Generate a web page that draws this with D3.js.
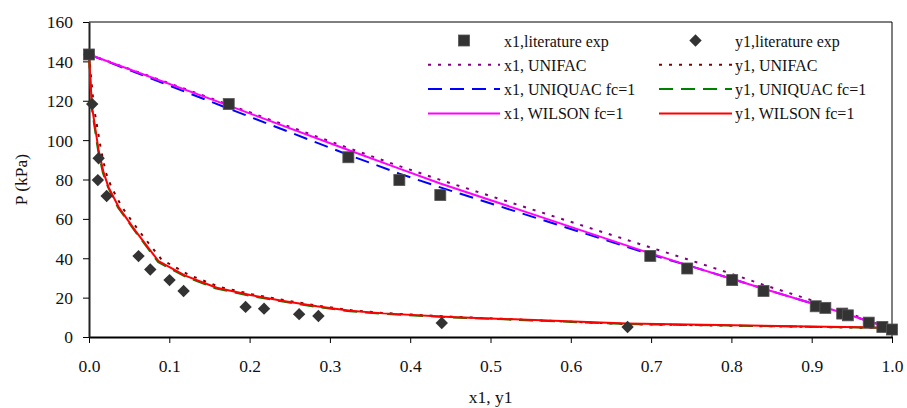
<!DOCTYPE html>
<html>
<head>
<meta charset="utf-8">
<script src="https://cdn.jsdelivr.net/npm/d3@7"></script>
<style>
  html, body { margin: 0; padding: 0; background: #fff; }
  svg { display: block; }
  svg text { font-family: "Liberation Serif", "Times New Roman", serif !important; fill: #111; }
</style>
</head>
<body>
<svg id="chart" width="907" height="408"></svg>
<script>
// Experimental liquid-phase (x1) points: composition and pressure (kPa)
const x1Exp = [0, 0.174, 0.323, 0.3865, 0.4375, 0.699, 0.745, 0.801, 0.840, 0.905, 0.917, 0.938, 0.945, 0.971, 0.988, 1.0];
const x1ExpP = [143.5, 118.3, 91.3, 79.7, 72.1, 41.2, 34.8, 28.9, 23.4, 15.6, 14.8, 11.9, 11.0, 7.3, 5.1, 3.8];

// Experimental vapour-phase (y1) points
const y1Exp = [0, 0.004, 0.012, 0.011, 0.022, 0.0617, 0.0763, 0.1003, 0.1178, 0.195, 0.218, 0.2617, 0.2857, 0.4393, 0.6707];
const y1ExpP = [143.5, 118.3, 90.8, 79.7, 71.6, 41.1, 34.3, 28.9, 23.4, 15.3, 14.4, 11.6, 10.7, 7.1, 5.1];

// Bubble-point curves (x1) from the three models
const x1Model = [0, 0.174, 0.323, 0.3865, 0.4375, 0.699, 0.745, 0.801, 0.840, 0.905, 0.917, 0.938, 0.945, 0.971, 0.988, 1.0];
const x1Unifac = [143.5, 118.0, 96.0, 86.8, 79.8, 45.5, 39.5, 32.0, 26.5, 18.0, 16.3, 13.3, 12.2, 8.4, 5.7, 3.8];
const x1Uniquac = [143.5, 116.0, 92.5, 83.0, 76.0, 42.0, 36.5, 29.5, 24.5, 16.5, 15.0, 12.3, 11.4, 8.0, 5.5, 3.8];
const x1Wilson = [143.5, 117.5, 95.0, 85.5, 78.0, 42.5, 36.5, 29.5, 24.5, 16.5, 15.0, 12.3, 11.4, 8.0, 5.5, 3.8];

// Dew-point curves (y1) from the three models
const dewP = [143.5, 117, 95, 83.5, 76, 66, 54, 38.5, 31.2, 25, 21.3, 18.3, 15.6, 13.3, 12, 10.2, 6.8, 4.8, 3.8];
const y1Unifac = [0, 0.006, 0.015, 0.021, 0.028, 0.041, 0.062, 0.090, 0.123, 0.162, 0.203, 0.245, 0.287, 0.328, 0.370, 0.452, 0.672, 0.982, 1.0];
const y1Uniquac = [0, 0.0032, 0.0112, 0.0172, 0.0238, 0.0358, 0.0568, 0.0862, 0.1195, 0.1585, 0.1995, 0.2415, 0.2835, 0.3245, 0.3665, 0.4490, 0.6690, 0.9790, 1.0];
const y1Wilson = [0, 0.0037, 0.0119, 0.0182, 0.0244, 0.0369, 0.0576, 0.0866, 0.1198, 0.1590, 0.2007, 0.2422, 0.2837, 0.3252, 0.3666, 0.4496, 0.6700, 0.9800, 1.0];
const y1UnifacP = [143.5, 117, 95, 83.5, 76, 66, 54, 39.5, 31.8, 25.5, 21.7, 18.6, 15.8, 13.5, 12.1, 10.3, 6.5, 4.6, 3.8];
const y1UniquacP = [143.5, 117, 95, 83.5, 76, 66, 54, 38, 30.8, 24.6, 21.0, 18.0, 15.3, 13.1, 11.8, 10.0, 6.6, 4.7, 3.8];

const xTicks = [0, 0.1, 0.2, 0.3, 0.4, 0.5, 0.6, 0.7, 0.8, 0.9, 1.0];
const yTicks = [0, 20, 40, 60, 80, 100, 120, 140, 160];

const legendNames = [
  "x1,literature exp", "y1,literature exp",
  "x1, UNIFAC", "y1, UNIFAC",
  "x1, UNIQUAC fc=1", "y1, UNIQUAC fc=1",
  "x1, WILSON fc=1", "y1, WILSON fc=1"
];

const svg = d3.select("#chart");
const plotL = 89, plotR = 892, plotT = 22, plotB = 337;

const x = d3.scaleLinear().domain([0, 1]).range([plotL, plotR]);
const y = d3.scaleLinear().domain([0, 160]).range([plotB, plotT]);

// plot frame: thin top and right edges
svg.append("line").attr("x1", plotL).attr("x2", plotR).attr("y1", plotT).attr("y2", plotT)
  .attr("stroke", "#000").attr("stroke-width", 1);
svg.append("line").attr("x1", plotR).attr("x2", plotR).attr("y1", plotT).attr("y2", plotB)
  .attr("stroke", "#000").attr("stroke-width", 1);

// axes
const xAxis = svg.append("g").attr("transform", `translate(0,${plotB})`)
  .call(d3.axisBottom(x).tickValues(xTicks).tickFormat(d3.format(".1f")).tickSize(6).tickSizeOuter(0));
xAxis.select(".domain").attr("stroke", "#000").attr("stroke-width", 2);
xAxis.selectAll(".tick line").attr("stroke", "#000");
xAxis.selectAll("text").attr("y", 35).attr("dy", 0).attr("font-size", 17.5);

const yAxis = svg.append("g").attr("transform", `translate(${plotL},0)`)
  .call(d3.axisLeft(y).tickValues(yTicks).tickFormat(d3.format("d")).tickSize(6).tickSizeOuter(0));
yAxis.select(".domain").attr("stroke", "#222").attr("stroke-width", 2);
yAxis.selectAll(".tick line").attr("stroke", "#000");
yAxis.selectAll("text").attr("x", -16).attr("dy", "0.34em").attr("font-size", 17.5);

// axis titles
svg.append("text").attr("x", (plotL + plotR) / 2).attr("y", 403).attr("text-anchor", "middle")
  .attr("font-size", 17.5).text("x1, y1");
svg.append("text").attr("transform", `translate(27,${(plotT + plotB) / 2}) rotate(-90)`)
  .attr("text-anchor", "middle").attr("font-size", 17.5).text("P (kPa)");

const line = d3.line().x(d => x(d[0])).y(d => y(d[1]));

const styles = {
  unifacX: { stroke: "#800080", dash: "3,7", width: 2 },
  unifacY: { stroke: "#800000", dash: "3,7", width: 2 },
  uniquacX: { stroke: "#0000ff", dash: "14,8", width: 2 },
  uniquacY: { stroke: "#008000", dash: "14,8", width: 2 },
  wilsonX: { stroke: "#ff00ff", dash: null, width: 2 },
  wilsonY: { stroke: "#ff0000", dash: null, width: 2 }
};

function drawCurve(xs, ps, st) {
  svg.append("path").datum(d3.zip(xs, ps))
    .attr("d", line).attr("fill", "none")
    .attr("stroke", st.stroke).attr("stroke-width", st.width)
    .attr("stroke-dasharray", st.dash)
    .attr("stroke-linejoin", "round");
}

drawCurve(x1Model, x1Unifac, styles.unifacX);
drawCurve(y1Unifac, y1UnifacP, styles.unifacY);
drawCurve(x1Model, x1Uniquac, styles.uniquacX);
drawCurve(y1Uniquac, y1UniquacP, styles.uniquacY);
drawCurve(x1Model, x1Wilson, styles.wilsonX);
drawCurve(y1Wilson, dewP, styles.wilsonY);

// experimental markers
const sq = 11;
const diamond = `M0,-6.2L6.2,0L0,6.2L-6.2,0Z`;
svg.append("g").selectAll("path").data(d3.zip(y1Exp, y1ExpP)).join("path")
  .attr("transform", d => `translate(${x(d[0])},${y(d[1])})`)
  .attr("d", diamond)
  .attr("fill", "#333");
svg.append("g").selectAll("rect").data(d3.zip(x1Exp, x1ExpP)).join("rect")
  .attr("x", d => x(d[0]) - sq / 2).attr("y", d => y(d[1]) - sq / 2)
  .attr("width", sq).attr("height", sq)
  .attr("fill", "#333").attr("stroke", "#555").attr("stroke-width", 0.8);

// legend, two columns filled row by row
const legendCols = [{ x0: 428, x1: 500, tx: 504 }, { x0: 659, x1: 732, tx: 735 }];
const rowY = [40.5, 64.8, 89.1, 113.4];
const legendStyles = [null, null, styles.unifacX, styles.unifacY, styles.uniquacX, styles.uniquacY, styles.wilsonX, styles.wilsonY];
const lg = svg.append("g");
legendNames.forEach((name, i) => {
  const c = legendCols[i % 2], ry = rowY[Math.floor(i / 2)];
  const cx = (c.x0 + c.x1) / 2;
  if (i === 0) {
    lg.append("rect").attr("x", cx - sq / 2).attr("y", ry - sq / 2).attr("width", sq).attr("height", sq)
      .attr("fill", "#333").attr("stroke", "#555").attr("stroke-width", 0.8);
  } else if (i === 1) {
    lg.append("path").attr("transform", `translate(${cx},${ry})`)
      .attr("d", diamond).attr("fill", "#333");
  } else {
    const st = legendStyles[i];
    lg.append("line").attr("x1", c.x0).attr("x2", c.x1).attr("y1", ry).attr("y2", ry)
      .attr("stroke", st.stroke).attr("stroke-width", st.width).attr("stroke-dasharray", st.dash);
  }
  lg.append("text").attr("x", c.tx).attr("y", ry + 6).attr("font-size", 16).text(name);
});
</script>
</body>
</html>
